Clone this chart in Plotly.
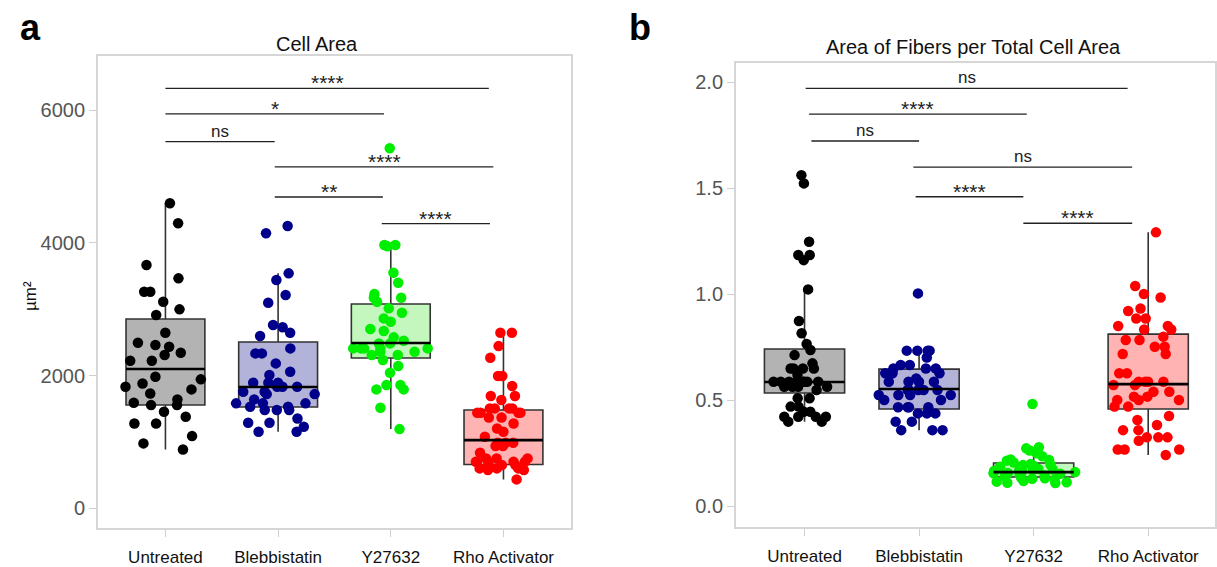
import plotly.graph_objects as go

# ---------------- data ----------------
categories = ["Untreated", "Blebbistatin", "Y27632", "Rho Activator"]
colors = ["#000000", "#00008b", "#00ee00", "#ff0000"]
fills = ["#b3b3b3", "#b3b3d9", "#c4f7bd", "#ffb3b3"]

# Panel a: Cell Area (µm²)
area_untreated = [4598, 4296, 3667, 3466, 3264, 3264, 3113, 2998, 2912, 2645, 2494, 2460, 2434,
                  2344, 2309, 2223, 2223, 1981, 1942, 1881, 1830, 1791, 1730, 1640, 1589, 1554,
                  1554, 1453, 1378, 1277, 1277, 1086, 976, 885]
area_bleb = [4255, 4145, 3541, 3440, 3214, 3098, 2761, 2727, 2645, 2595, 2409, 2334, 2334, 2183,
             2057, 2007, 1891, 1891, 1891, 1830, 1830, 1830, 1755, 1755, 1720, 1720, 1640, 1580,
             1580, 1580, 1529, 1529, 1479, 1479, 1479, 1353, 1287, 1287, 1227, 1151, 1151]
area_y27 = [5428, 3969, 3969, 3950, 3551, 3400, 3229, 3174, 3174, 3113, 3013, 2947, 2862, 2812,
            2701, 2671, 2576, 2525, 2485, 2485, 2409, 2409, 2409, 2409, 2409, 2359, 2359, 2309,
            2309, 2233, 2143, 2042, 1856, 1856, 1791, 1791, 1514, 1192]
area_rho = [2645, 2645, 2444, 2268, 1992, 1992, 1841, 1690, 1690, 1630, 1504, 1504, 1504, 1504,
            1438, 1438, 1438, 1438, 1368, 1368, 1277, 1202, 1151, 1076, 986, 986, 986, 936, 936,
            835, 750, 750, 750, 699, 699, 699, 699, 699, 649, 649, 649, 599, 599, 599, 574, 574, 433]

# Panel b: Area of fibers per total cell area
fib_untreated = [1.561, 1.522, 1.247, 1.184, 1.184, 1.160, 1.022, 0.873, 0.815, 0.764, 0.736, 0.712,
                 0.673, 0.649, 0.649, 0.649, 0.649, 0.618, 0.586, 0.586, 0.586, 0.586, 0.586, 0.586,
                 0.586, 0.586, 0.563, 0.563, 0.563, 0.563, 0.547, 0.508, 0.508, 0.469, 0.469, 0.445,
                 0.445, 0.421, 0.421, 0.421, 0.421, 0.398, 0.398]
fib_bleb = [1.003, 0.733, 0.733, 0.733, 0.733, 0.701, 0.665, 0.665, 0.649, 0.649, 0.649, 0.626,
            0.626, 0.626, 0.602, 0.586, 0.586, 0.586, 0.586, 0.547, 0.547, 0.547, 0.547, 0.547,
            0.524, 0.524, 0.524, 0.524, 0.500, 0.500, 0.466, 0.466, 0.466, 0.466, 0.437, 0.437,
            0.437, 0.398, 0.398, 0.358, 0.358, 0.358]
fib_y27 = [0.481, 0.277, 0.272, 0.262, 0.249, 0.235, 0.220, 0.217, 0.214, 0.205, 0.198, 0.195,
           0.193, 0.190, 0.185, 0.180, 0.175, 0.172, 0.170, 0.168, 0.165, 0.162, 0.160, 0.156,
           0.154, 0.152, 0.148, 0.145, 0.140, 0.133, 0.131, 0.129, 0.125, 0.118, 0.115, 0.112,
           0.110, 0.108]
fib_rho = [1.291, 1.038, 1.000, 0.984, 0.932, 0.920, 0.885, 0.885, 0.849, 0.849, 0.833, 0.833,
           0.799, 0.783, 0.783, 0.751, 0.751, 0.717, 0.717, 0.626, 0.626, 0.586, 0.586, 0.586,
           0.586, 0.571, 0.571, 0.539, 0.539, 0.516, 0.516, 0.500, 0.500, 0.500, 0.469, 0.469,
           0.425, 0.406, 0.382, 0.358, 0.358, 0.324, 0.324, 0.324, 0.308, 0.267, 0.267, 0.267, 0.241]

# Box statistics (as drawn)
a_q1 = [1555, 1525, 2264, 659]
a_med = [2098, 1826, 2490, 1026]
a_q3 = [2853, 2506, 3079, 1479]
a_lo = [885, 1151, 1192, 433]
a_hi = [4598, 3541, 3969, 2645]

b_q1 = [0.533, 0.458, 0.137, 0.458]
b_med = [0.585, 0.552, 0.160, 0.575]
b_q3 = [0.741, 0.646, 0.203, 0.811]
b_lo = [0.398, 0.358, 0.108, 0.241]
b_hi = [1.022, 0.733, 0.277, 1.291]

# Significance brackets: (xstart, xend, y, label)
a_sig_x0 = [0.0, 0.0, 0.0, 0.97, 0.97, 1.92]
a_sig_x1 = [2.87, 1.94, 0.97, 2.91, 1.93, 2.88]
a_sig_y = [6333, 5946, 5528, 5146, 4693, 4290]
a_sig_lab = ["****", "*", "ns", "****", "**", "****"]

b_sig_x0 = [0.01, 0.04, 0.06, 0.95, 0.97, 1.91]
b_sig_x1 = [2.82, 1.94, 1.00, 2.86, 1.91, 2.86]
b_sig_y = [1.970, 1.849, 1.722, 1.599, 1.459, 1.334]
b_sig_lab = ["ns", "****", "ns", "ns", "****", "****"]

a_ticks = [0, 2000, 4000, 6000]
b_ticks = [0.0, 0.5, 1.0, 1.5, 2.0]

# ---------------- figure ----------------
W, H = 1217, 567
fig = go.Figure()
BOXW = 0.7


def add_panel(xa, ya, groups, q1, med, q3, lo, hi, sx0, sx1, sy, slab):
    for i, vals in enumerate(groups):
        fig.add_trace(go.Box(
            x=[i], q1=[q1[i]], median=[med[i]], q3=[q3[i]],
            lowerfence=[lo[i]], upperfence=[hi[i]],
            width=BOXW, whiskerwidth=0, fillcolor=fills[i],
            line=dict(color="#333333", width=1.6), boxpoints=False,
            xaxis=xa, yaxis=ya, showlegend=False, hoverinfo="skip"))
    # thicker median line
    mx, my = [], []
    for i in range(len(groups)):
        mx += [i - BOXW / 2, i + BOXW / 2, None]
        my += [med[i], med[i], None]
    fig.add_trace(go.Scatter(x=mx, y=my, mode="lines", line=dict(color="#000000", width=2.6),
                             xaxis=xa, yaxis=ya, showlegend=False, hoverinfo="skip"))
    for i, vals in enumerate(groups):
        fig.add_trace(go.Box(
            x=[i] * len(vals), y=vals, boxpoints="all", jitter=1.0, pointpos=0,
            width=0.82, fillcolor="rgba(0,0,0,0)",
            line=dict(color="rgba(0,0,0,0)", width=0),
            marker=dict(color=colors[i], size=10.5, opacity=1),
            xaxis=xa, yaxis=ya, showlegend=False, hoveron="points"))
    # brackets
    bx, by = [], []
    for x0, x1, y in zip(sx0, sx1, sy):
        bx += [x0, x1, None]
        by += [y, y, None]
    fig.add_trace(go.Scatter(x=bx, y=by, mode="lines", line=dict(color="#222222", width=1.3),
                             xaxis=xa, yaxis=ya, showlegend=False, hoverinfo="skip"))
    for x0, x1, y, lab in zip(sx0, sx1, sy, slab):
        if lab == "ns":
            fig.add_annotation(x=(x0 + x1) / 2, y=y, xref=xa, yref=ya, text=lab,
                               showarrow=False, yanchor="bottom", yshift=-1,
                               font=dict(size=17, color="#222222", family="Liberation Sans"))
        else:
            fig.add_annotation(x=(x0 + x1) / 2, y=y, xref=xa, yref=ya, text=lab,
                               showarrow=False, yanchor="bottom", yshift=-8,
                               font=dict(size=21, color="#222222", family="Liberation Sans"))


add_panel("x", "y", [area_untreated, area_bleb, area_y27, area_rho],
          a_q1, a_med, a_q3, a_lo, a_hi, a_sig_x0, a_sig_x1, a_sig_y, a_sig_lab)
add_panel("x2", "y2", [fib_untreated, fib_bleb, fib_y27, fib_rho],
          b_q1, b_med, b_q3, b_lo, b_hi, b_sig_x0, b_sig_x1, b_sig_y, b_sig_lab)

axis_common = dict(showline=True, mirror=True, linecolor="#d6d6d6", linewidth=1.5,
                   showgrid=False, zeroline=False, ticks="outside", ticklen=7,
                   tickcolor="#cfcfcf", tickwidth=1.2)

fig.update_layout(
    width=W, height=H, margin=dict(l=0, r=0, t=0, b=0),
    paper_bgcolor="white", plot_bgcolor="white", boxmode="overlay",
    font=dict(family="Liberation Sans, Arial, sans-serif", color="#000000"),
    xaxis=dict(domain=[98 / W, 572 / W], range=[-0.6, 3.6], tickvals=[0, 1, 2, 3],
               ticktext=categories, tickfont=dict(size=17, color="#111111"),
               ticklabelstandoff=6, **axis_common),
    yaxis=dict(domain=[1 - 528 / H, 1 - 56 / H], range=[-300, 6820], tickvals=a_ticks,
               tickfont=dict(size=20, color="#555555"), **axis_common),
    xaxis2=dict(domain=[737 / W, 1.0], range=[-0.6, 3.583], tickvals=[0, 1, 2, 3],
                ticktext=categories, tickfont=dict(size=17, color="#111111"),
                ticklabelstandoff=6, anchor="y2", **axis_common),
    yaxis2=dict(domain=[1 - 527 / H, 1 - 63 / H], range=[-0.099, 2.09], tickvals=b_ticks,
                tickformat=".1f", tickfont=dict(size=20, color="#555555"), anchor="x2",
                **axis_common),
)

# titles and labels
def paper_text(x, y, text, size, angle=0, color="#111111"):
    fig.add_annotation(x=x / W, y=1 - y / H, xref="paper", yref="paper", text=text,
                       xanchor="center", yanchor="middle", textangle=angle,
                       showarrow=False, font=dict(size=size, color=color,
                                                  family="Liberation Sans"))


paper_text(318, 44, "Cell Area", 20)
paper_text(975, 47, "Area of Fibers per Total Cell Area", 20)
paper_text(30, 296, "µm²", 17, angle=-90)
paper_text(31, 27, "<b>a</b>", 36, color="#000000")
paper_text(641, 27, "<b>b</b>", 36, color="#000000")

fig.write_html("out.html")
